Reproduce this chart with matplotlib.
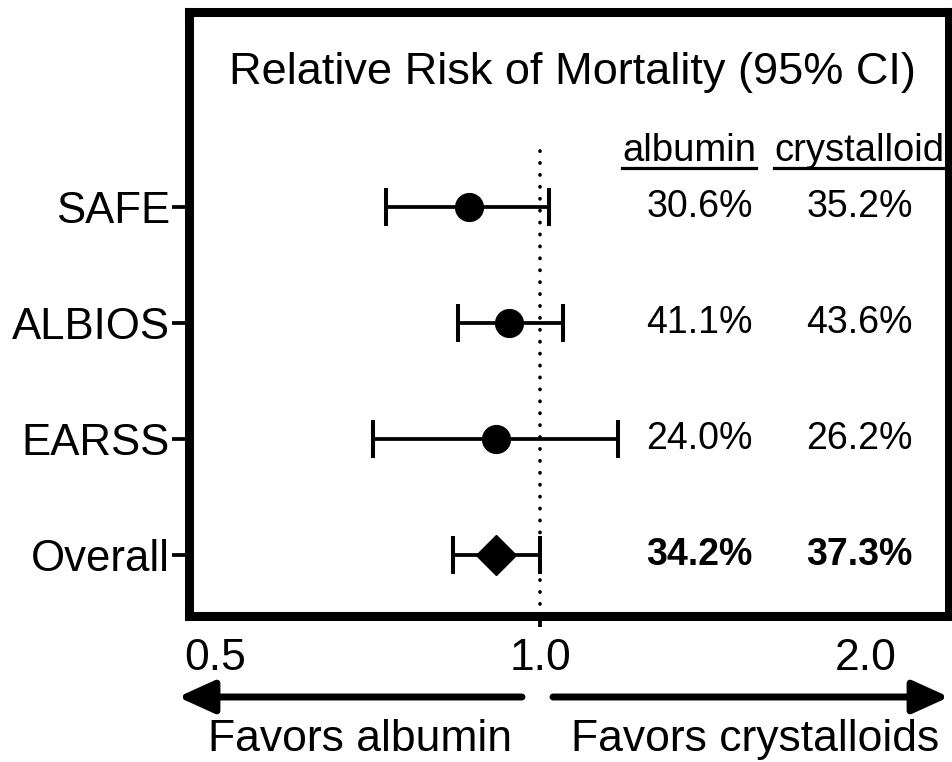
import numpy as np
import matplotlib
matplotlib.use('Agg')
import matplotlib.pyplot as plt

plt.rcParams['font.family'] = ['Liberation Sans', 'DejaVu Sans']

# Dados
studies = ['SAFE', 'ALBIOS', 'EARSS', 'Overall']
rr = np.array([0.86, 0.935, 0.91, 0.91])
lo = np.array([0.72, 0.84, 0.70, 0.83])
hi = np.array([1.02, 1.05, 1.18, 1.00])
albumin = ['30.6%', '41.1%', '24.0%', '34.2%']
crystalloid = ['35.2%', '43.6%', '26.2%', '37.3%']

ypos = np.array([3, 2, 1, 0])

fig = plt.figure(figsize=(9.53, 7.62), dpi=100)
ax = fig.add_axes([0.198, 0.1916, 0.798, 0.7926])

ax.set_xscale('log')
ax.set_xlim(0.473, 2.39)
ax.set_ylim(-0.526, 4.68)

# linha de referência
ax.axvline(1.0, ymin=0, ymax=0.785, color='k', lw=2.6,
           linestyle=(0, (0.1, 3.2)), dash_capstyle='round', zorder=1)

# barras de erro
ax.errorbar(rr, ypos, xerr=[rr - lo, hi - rr], fmt='none', ecolor='k',
            elinewidth=2.7, capsize=14, capthick=2.9, zorder=2)
ax.plot(rr[:3], ypos[:3], 'o', color='k', ms=20, zorder=3)
ax.plot(rr[3:], ypos[3:], 'D', color='k', ms=20, zorder=3)

# eixos
for s in ax.spines.values():
    s.set_linewidth(6.5)
ax.set_yticks(ypos, studies)
ax.tick_params(axis='y', length=12, width=2.7, pad=1.5, labelsize=31.5)
ax.set_xticks([1.0], ['1.0'])
ax.set_xticks([0.5, 2.0], ['0.5', '2.0'], minor=True)
ax.tick_params(axis='x', which='major', length=8, width=2.7, pad=8, labelsize=32)
ax.tick_params(axis='x', which='minor', length=0, pad=16, labelsize=32)

ax.text(0.504, 0.90, 'Relative Risk of Mortality (95% CI)', transform=ax.transAxes,
        ha='center', va='center', fontsize=32.5)

# colunas de porcentagem
hdr_a = ax.text(0.658, 0.77, 'albumin', transform=ax.transAxes,
                ha='center', va='center', fontsize=27.5)
hdr_c = ax.text(0.882, 0.77, 'crystalloid', transform=ax.transAxes,
                ha='center', va='center', fontsize=27.5)
for i in range(len(studies)):
    w = 'bold' if studies[i] == 'Overall' else 'normal'
    ax.text(0.672, ypos[i], albumin[i], transform=ax.get_yaxis_transform(),
            ha='center', va='center', fontsize=27, fontweight=w)
    ax.text(0.882, ypos[i], crystalloid[i], transform=ax.get_yaxis_transform(),
            ha='center', va='center', fontsize=27, fontweight=w)

# sublinhado dos cabeçalhos
fig.canvas.draw()
r = fig.canvas.get_renderer()
inv = ax.transAxes.inverted()
for t in [hdr_a, hdr_c]:
    bb = t.get_window_extent(r)
    (x0, y0), (x1, _) = inv.transform([(bb.x0, bb.y0 + 1), (bb.x1, bb.y0 + 1)])
    ax.plot([x0, x1], [y0, y0], color='k', lw=2.3, transform=ax.transAxes, clip_on=False)

# setas
ap = dict(arrowstyle='-|>,head_length=2.2,head_width=1.0', lw=5, color='k',
          shrinkA=0, shrinkB=0, capstyle='round')
ax.annotate('', xy=(178 / 953, 0.0853), xytext=(522 / 953, 0.0853),
            xycoords='figure fraction', textcoords='figure fraction', arrowprops=ap)
ax.annotate('', xy=(949 / 953, 0.0853), xytext=(553 / 953, 0.0853),
            xycoords='figure fraction', textcoords='figure fraction', arrowprops=ap)
fig.text(360 / 953, 0.029, 'Favors albumin', ha='center', va='center', fontsize=32)
fig.text(755 / 953, 0.029, 'Favors crystalloids', ha='center', va='center', fontsize=32)

fig.savefig('out.png', dpi=100)
